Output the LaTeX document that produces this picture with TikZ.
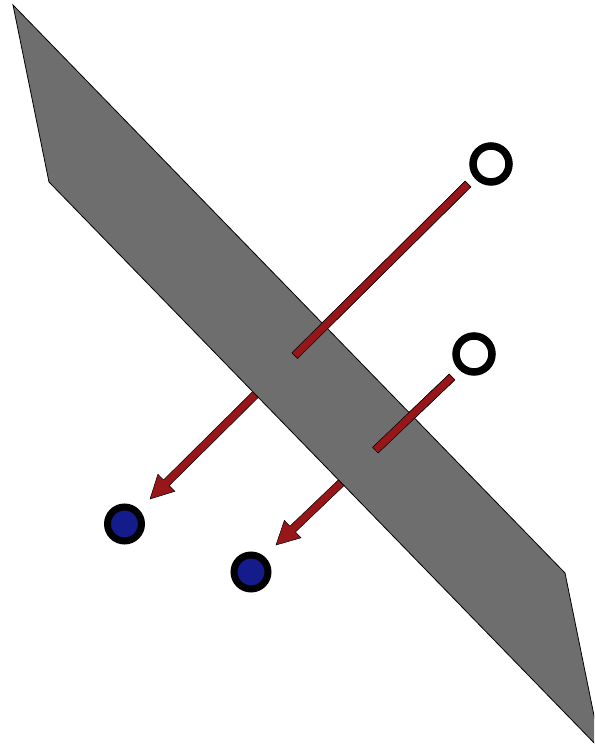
\documentclass[tikz,border=0pt]{standalone}
\usetikzlibrary{calc}
\definecolor{slabgray}{RGB}{110,110,110}
\definecolor{arrowred}{RGB}{150,22,26}
\definecolor{dotblue}{RGB}{20,28,140}
\tikzset{
  slab/.style={fill=slabgray, draw=black, line width=0.8pt},
  arrowbody/.style={fill=arrowred, draw=black, line width=0.5pt},
  opendot/.style={circle, draw=black, fill=white, line width=7.5pt, minimum size=36pt, inner sep=0pt},
  fulldot/.style={circle, draw=black, fill=dotblue, line width=7pt, minimum size=34pt, inner sep=0pt}
}
\begin{document}
\begin{tikzpicture}[x=1pt,y=1pt]
\useasboundingbox (0,0) rectangle (594,754);
\clip (0,0) rectangle (594,754);
% arrow start and tip coordinates
\coordinate (a1) at (468,570);
\coordinate (a2) at (452,377);
% full arrows (behind the slab)
\begin{scope}[shift={(a1)}, rotate=224.73]
  \path[arrowbody] (0,4) -- (424.6,4) -- (424.6,12) -- (447.6,0) -- (424.6,-12) -- (424.6,-4) -- (0,-4) -- cycle;
\end{scope}
\begin{scope}[shift={(a2)}, rotate=223.67]
  \path[arrowbody] (0,4) -- (220.3,4) -- (220.3,12) -- (243.3,0) -- (220.3,-12) -- (220.3,-4) -- (0,-4) -- cycle;
\end{scope}
% slab
\path[slab] (13,749) -- (565,181) -- (601,4) -- (49,572) -- cycle;
% front parts of the shafts
\begin{scope}[shift={(a1)}, rotate=224.73]
  \path[arrowbody] (0,4) -- (244,4) -- (244,-4) -- (0,-4) -- cycle;
\end{scope}
\begin{scope}[shift={(a2)}, rotate=223.67]
  \path[arrowbody] (0,4) -- (106,4) -- (106,-4) -- (0,-4) -- cycle;
\end{scope}
% dots
\node[opendot] (w1) at (491,590) {};
\node[opendot] (w2) at (474,400) {};
\node[fulldot] (b1) at (124.5,230) {};
\node[fulldot] (b2) at (251,182) {};
\end{tikzpicture}
\end{document}
